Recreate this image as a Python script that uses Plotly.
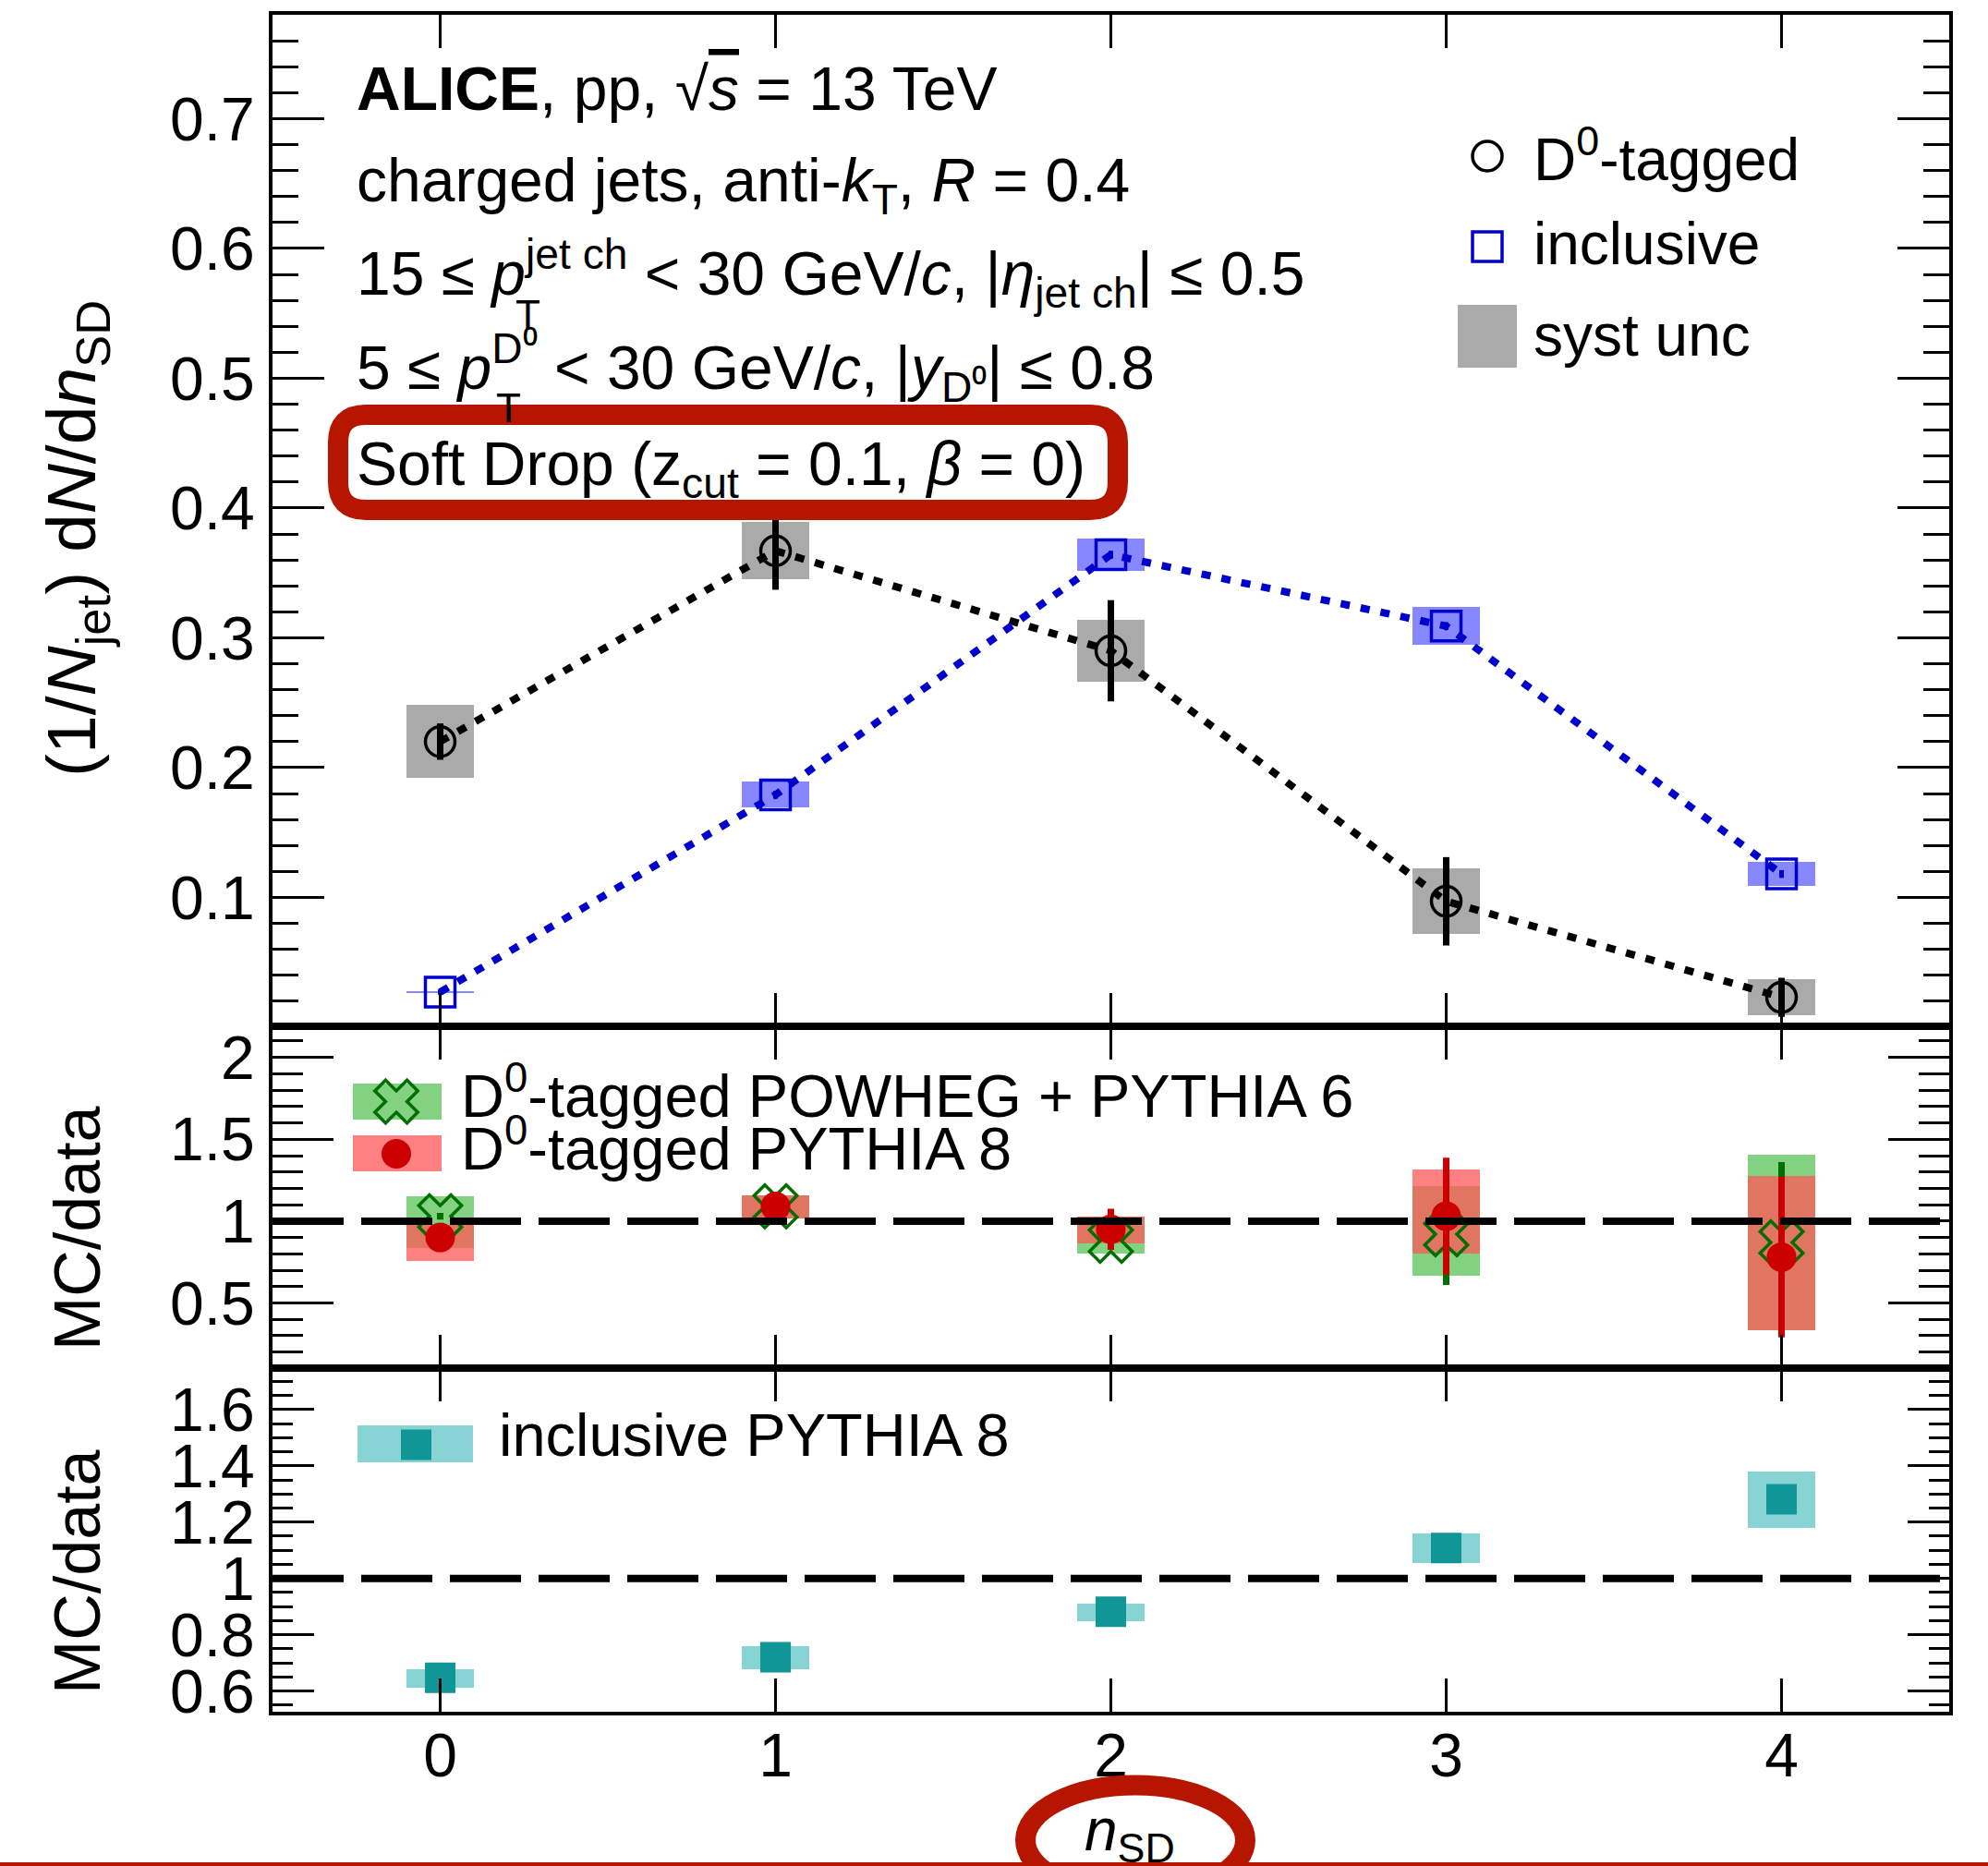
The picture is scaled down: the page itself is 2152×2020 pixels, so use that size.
import plotly.graph_objects as go

# ---------------- data ----------------
n_sd = [0, 1, 2, 3, 4]

# D0-tagged jets: value, statistical and systematic uncertainty
d0_val = [0.220, 0.367, 0.290, 0.097, 0.023]
d0_stat = [0.014, 0.030, 0.039, 0.034, 0.015]
d0_syst = [0.028, 0.022, 0.024, 0.025, 0.014]

# inclusive jets
incl_val = [0.027, 0.179, 0.364, 0.309, 0.118]
incl_stat = [0.002, 0.003, 0.003, 0.003, 0.003]
incl_syst = [0.001, 0.010, 0.0125, 0.0145, 0.0093]

# MC/data, D0-tagged POWHEG + PYTHIA 6
powheg_ratio = [1.03, 1.09, 0.88, 0.92, 0.87]
powheg_stat = [0.02, 0.02, 0.03, 0.31, 0.49]
powheg_syst_lo = [0.836, 1.02, 0.805, 0.671, 0.335]
powheg_syst_hi = [1.157, 1.16, 1.03, 1.217, 1.407]

# MC/data, D0-tagged PYTHIA 8
py8_ratio = [0.90, 1.09, 0.95, 1.03, 0.78]
py8_stat = [0.02, 0.02, 0.125, 0.357, 0.49]
py8_syst_lo = [0.761, 1.02, 0.866, 0.805, 0.335]
py8_syst_hi = [0.981, 1.16, 1.03, 1.32, 1.277]

# MC/data, inclusive PYTHIA 8
incl_py8_ratio = [0.647, 0.720, 0.881, 1.108, 1.281]
incl_py8_stat = [0.01, 0.01, 0.01, 0.01, 0.01]
incl_py8_syst = [0.033, 0.042, 0.031, 0.053, 0.100]

# ---------------- styling / layout constants ----------------
FONT = "Liberation Sans, Arial, Helvetica, sans-serif"
W, H = 2152, 2020
L, R, T, B = 295, 2110, 16, 1853   # plot-area edges in pixels
BOX_HALF = 0.1                     # half width of systematic boxes (in n_SD)
TICK_FONT = 66
TEXT_FONT = 66

RED_HL = "rgb(182,22,0)"
BLUE = "rgb(0,0,204)"
GREEN_DK = "rgb(0,110,0)"
RED = "rgb(204,0,0)"
TEAL = "rgb(16,150,150)"
TEAL_LT = "rgb(136,212,212)"
GREEN_BOX = "rgba(88,195,88,0.75)"
RED_BOX = "rgba(255,86,86,0.75)"
BLUE_BOX = "rgba(0,0,255,0.47)"
GRAY_BOX = "rgb(170,170,170)"


def fx(p):
    return (p - L) / (R - L)


def fy(p):
    return (B - p) / (B - T)


dom1 = [fy(1110.5), 1.0]
dom2 = [fy(1480.5), fy(1110.5)]
dom3 = [0.0, fy(1480.5)]

fig = go.Figure()

box_w = [2 * BOX_HALF] * len(n_sd)

# ---- top panel: distributions ----
fig.add_trace(go.Bar(
    x=n_sd, y=[2 * s for s in d0_syst], base=[v - s for v, s in zip(d0_val, d0_syst)],
    width=box_w, marker=dict(color=GRAY_BOX, line=dict(width=0)),
    xaxis="x", yaxis="y", showlegend=False, hoverinfo="skip"))
fig.add_trace(go.Bar(
    x=n_sd, y=[2 * s for s in incl_syst], base=[v - s for v, s in zip(incl_val, incl_syst)],
    width=box_w, marker=dict(color=BLUE_BOX, line=dict(width=0)),
    xaxis="x", yaxis="y", showlegend=False, hoverinfo="skip"))
fig.add_trace(go.Scatter(
    x=n_sd, y=d0_val, mode="lines+markers",
    line=dict(color="black", width=8, dash="10px,12px"),
    marker=dict(symbol="circle-open", size=32, color="black", line=dict(width=3.5, color="black")),
    error_y=dict(type="data", array=d0_stat, thickness=7, width=0, color="black"),
    xaxis="x", yaxis="y", showlegend=False, cliponaxis=False))
fig.add_trace(go.Scatter(
    x=n_sd, y=incl_val, mode="lines+markers",
    line=dict(color=BLUE, width=8, dash="10px,12px"),
    marker=dict(symbol="square-open", size=32, color=BLUE, line=dict(width=3.5, color=BLUE)),
    error_y=dict(type="data", array=incl_stat, thickness=5, width=0, color=BLUE),
    xaxis="x", yaxis="y", showlegend=False, cliponaxis=False))

# ---- middle panel: D0-tagged MC/data ----
fig.add_trace(go.Bar(
    x=n_sd, y=[h - l for l, h in zip(powheg_syst_lo, powheg_syst_hi)], base=powheg_syst_lo,
    width=box_w, marker=dict(color=GREEN_BOX, line=dict(width=0)),
    xaxis="x2", yaxis="y2", showlegend=False, hoverinfo="skip"))
fig.add_trace(go.Bar(
    x=n_sd, y=[h - l for l, h in zip(py8_syst_lo, py8_syst_hi)], base=py8_syst_lo,
    width=box_w, marker=dict(color=RED_BOX, line=dict(width=0)),
    xaxis="x2", yaxis="y2", showlegend=False, hoverinfo="skip"))
fig.add_trace(go.Scatter(
    x=n_sd, y=powheg_ratio, mode="markers",
    marker=dict(symbol="x-open", size=41, color=GREEN_DK, line=dict(width=3.5, color=GREEN_DK)),
    error_y=dict(type="data", array=powheg_stat, thickness=7, width=0, color=GREEN_DK),
    xaxis="x2", yaxis="y2", showlegend=False, cliponaxis=False))
fig.add_trace(go.Scatter(
    x=n_sd, y=py8_ratio, mode="markers",
    marker=dict(symbol="circle", size=32, color=RED, line=dict(width=0)),
    error_y=dict(type="data", array=py8_stat, thickness=7, width=0, color=RED),
    xaxis="x2", yaxis="y2", showlegend=False, cliponaxis=False))

# ---- bottom panel: inclusive MC/data ----
fig.add_trace(go.Bar(
    x=n_sd, y=[2 * s for s in incl_py8_syst], base=[v - s for v, s in zip(incl_py8_ratio, incl_py8_syst)],
    width=box_w, marker=dict(color=TEAL_LT, line=dict(width=0)),
    xaxis="x3", yaxis="y3", showlegend=False, hoverinfo="skip"))
fig.add_trace(go.Scatter(
    x=n_sd, y=incl_py8_ratio, mode="markers",
    marker=dict(symbol="square", size=33, color=TEAL, line=dict(width=0)),
    error_y=dict(type="data", array=incl_py8_stat, thickness=6, width=0, color=TEAL),
    xaxis="x3", yaxis="y3", showlegend=False, cliponaxis=False))

# ---- legend keys (drawn on a full-plot-area overlay axis, 0..1 in both directions) ----
legend_keys = [
    # (x px, y px, symbol, size, fill colour, outline colour, outline width)
    (1610, 169, "circle-open", 32, "black", "black", 3.5),
    (1610, 267, "square-open", 32, BLUE, BLUE, 3.5),
    (429, 1192.5, "x-open", 41, GREEN_DK, GREEN_DK, 3.5),
    (429, 1249, "circle", 32, RED, RED, 0),
    (450.5, 1564, "square", 33, TEAL, TEAL, 0),
]
for kx, ky, sym, sz, col, lcol, lw in legend_keys:
    fig.add_trace(go.Scatter(
        x=[fx(kx)], y=[fy(ky)], mode="markers",
        marker=dict(symbol=sym, size=sz, color=col, line=dict(width=lw, color=lcol)),
        xaxis="x4", yaxis="y4", showlegend=False, cliponaxis=False, hoverinfo="skip"))

# ---------------- axes ----------------
xcommon = dict(range=[-0.5, 4.5], tickmode="array", tickvals=n_sd, ticks="inside", ticklen=36,
               tickwidth=3, tickcolor="black", showline=True, linewidth=4, linecolor="black",
               mirror="ticks", showgrid=False, zeroline=False,
               tickfont=dict(family=FONT, size=TICK_FONT, color="black"))


def yaxis(domain, anchor, rng, dtick, mdtick, tl, mtl):
    return dict(domain=domain, anchor=anchor, range=rng, tick0=0, dtick=dtick,
                ticks="inside", ticklen=tl, tickwidth=3, tickcolor="black",
                minor=dict(ticks="inside", ticklen=mtl, tickwidth=3, tickcolor="black",
                           tick0=0, dtick=mdtick, showgrid=False),
                showline=True, linewidth=4, linecolor="black", mirror="ticks",
                showgrid=False, zeroline=False, ticklabelstandoff=2,
                tickfont=dict(family=FONT, size=TICK_FONT, color="black"))


fig.update_layout(
    width=W, height=H,
    margin=dict(l=L, r=W - R, t=T, b=H - B, pad=0),
    paper_bgcolor="white", plot_bgcolor="rgba(0,0,0,0)",
    barmode="overlay", bargap=0,
    font=dict(family=FONT, size=TEXT_FONT, color="black"),
    showlegend=False,
    xaxis=dict(xcommon, anchor="y", showticklabels=False),
    xaxis2=dict(xcommon, anchor="y2", showticklabels=False),
    xaxis3=dict(xcommon, anchor="y3", showticklabels=True, ticklabelstandoff=-13),
    yaxis=yaxis(dom1, "x", [0.001, 0.78], 0.1, 0.02, 56, 28),
    yaxis2=yaxis(dom2, "x2", [0.105, 2.193], 0.5, 0.1, 66, 33),
    yaxis3=yaxis(dom3, "x3", [0.526, 1.749], 0.2, 0.05, 45, 22),
    xaxis4=dict(domain=[0, 1], range=[0, 1], anchor="y4", visible=False, fixedrange=True),
    yaxis4=dict(domain=[0, 1], range=[0, 1], anchor="x4", visible=False, fixedrange=True),
)

# ---------------- shapes ----------------
shapes = []
# unity reference lines in the ratio panels (drawn on top)
for yref, xref in (("y2", "x2 domain"), ("y3", "x3 domain")):
    shapes.append(dict(type="line", xref=xref, yref=yref, x0=0, x1=1, y0=1, y1=1,
                       line=dict(color="black", width=8, dash="77px,19px"), layer="above"))

# legend boxes
legend_boxes = [
    (1578, 330, 1642, 398, GRAY_BOX),
    (382, 1173, 478, 1212, GREEN_BOX),
    (382, 1229, 478, 1268, RED_BOX),
    (387, 1543, 512, 1583, TEAL_LT),
]
for x0, y0, x1, y1, col in legend_boxes:
    shapes.append(dict(type="rect", xref="paper", yref="paper", x0=fx(x0), x1=fx(x1),
                       y0=fy(y1), y1=fy(y0), fillcolor=col, line=dict(width=0), layer="below"))

# rounded highlight frame around the Soft Drop line
hx0, hx1, hy0, hy1, hr = 366, 1210, 449, 552, 30


def P(x, y):
    return f"{fx(x):.5f},{fy(y):.5f}"


frame = (f"M{P(hx0 + hr, hy0)} L{P(hx1 - hr, hy0)} Q{P(hx1, hy0)} {P(hx1, hy0 + hr)} "
         f"L{P(hx1, hy1 - hr)} Q{P(hx1, hy1)} {P(hx1 - hr, hy1)} "
         f"L{P(hx0 + hr, hy1)} Q{P(hx0, hy1)} {P(hx0, hy1 - hr)} "
         f"L{P(hx0, hy0 + hr)} Q{P(hx0, hy0)} {P(hx0 + hr, hy0)} Z")
shapes.append(dict(type="path", xref="paper", yref="paper", path=frame,
                   line=dict(color=RED_HL, width=22), fillcolor="rgba(0,0,0,0)", layer="above"))

# ellipse around the x-axis title
ecx, ecy, erx, ery = 1229, 1992, 119, 59.5
shapes.append(dict(type="circle", xref="paper", yref="paper",
                   x0=fx(ecx - erx), x1=fx(ecx + erx), y0=fy(ecy + ery), y1=fy(ecy - ery),
                   line=dict(color=RED_HL, width=22), layer="above"))
# thin rule along the bottom edge
shapes.append(dict(type="line", xref="paper", yref="paper", x0=fx(0), x1=fx(W),
                   y0=fy(2018), y1=fy(2018), line=dict(color=RED_HL, width=4), layer="above"))

fig.update_layout(shapes=shapes)

# ---------------- text ----------------
def note(text, x, y, size=TEXT_FONT, xanchor="left", yanchor="middle", angle=0):
    return dict(text=text, x=fx(x), y=fy(y), xref="paper", yref="paper",
                xanchor=xanchor, yanchor=yanchor, showarrow=False, textangle=angle,
                font=dict(family=FONT, size=size, color="black"))


annotations = [
    note("<b>ALICE</b>, pp, √<span style=\"text-decoration:overline\"><i>s</i></span> = 13 TeV", 384, 96),
    note("charged jets, anti-<i>k</i><sub>T</sub>, <i>R</i> = 0.4", 384, 200),
    note("15 ≤ <i>p</i><sup>jet ch</sup> &lt; 30 GeV/<i>c</i>, |<i>η</i><sub>jet ch</sub>| ≤ 0.5", 384, 296),
    note("T", 556, 340, size=44),
    note("5 ≤ <i>p</i><sup>D⁰</sup> &lt; 30 GeV/<i>c</i>, |<i>y</i><sub>D⁰</sub>| ≤ 0.8", 384, 398),
    note("T", 535, 442, size=44),
    note("Soft Drop (z<sub>cut</sub> = 0.1, <i>β</i> = 0)", 384, 507),
    note("D<sup>0</sup>-tagged", 1658, 168, size=64),
    note("inclusive", 1658, 264, size=64),
    note("syst unc", 1658, 363, size=64),
    note("D<sup>0</sup>-tagged POWHEG + PYTHIA 6", 497, 1182, size=65),
    note("D<sup>0</sup>-tagged PYTHIA 8", 497, 1239, size=65),
    note("inclusive PYTHIA 8", 538, 1553, size=65),
    note("(1/<i>N</i><sub>jet</sub>) d<i>N</i>/d<i>n</i><sub>SD</sub>", 82, 583, size=75, xanchor="center", angle=-90),
    note("MC/data", 84, 1330, size=70, xanchor="center", angle=-90),
    note("MC/data", 84, 1702, size=70, xanchor="center", angle=-90),
    note("<i>n</i><sub>SD</sub>", 1223, 1985, size=64, xanchor="center"),
]
fig.update_layout(annotations=annotations)

fig.write_html("out.html")
